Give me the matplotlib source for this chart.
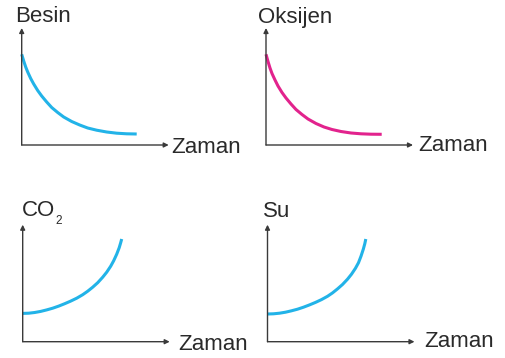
import matplotlib
matplotlib.use("Agg")
import matplotlib.pyplot as plt

plt.rcParams["font.family"] = ["Liberation Sans", "DejaVu Sans"]

# Eğriler (eksen başlangıcına göre okunmuş değerler)
besin_x = [0, 2, 4, 6, 9, 12, 16, 20, 25, 30, 36, 42, 50, 58, 66, 75, 85, 95, 105, 115]
besin_y = [90.7, 84, 78, 73, 66.5, 61, 54.5, 49, 43, 37.5, 32.5, 28, 23.5, 20, 17,
           14.8, 13, 11.8, 11.2, 11]

oksijen_x = [0, 2, 4, 6, 9, 12, 16, 20, 25, 30, 36, 42, 50, 58, 66, 75, 85, 95, 105, 115.7]
oksijen_y = [90.7, 83.5, 77, 71.5, 65, 59, 52.5, 47, 41, 35.5, 30.5, 26, 21.5, 18, 15.5,
             13.5, 12, 11.2, 10.8, 10.7]

co2_x = [0, 6, 12, 18, 24, 30, 36, 42, 48, 54, 60, 65, 70, 75, 80, 84, 88, 91, 94, 96.5,
         98, 99]
co2_y = [28.3, 28.5, 29.2, 30.3, 31.8, 33.5, 35.6, 38, 40.6, 43.5, 47, 50.5, 54.5, 59,
         64.5, 69.5, 75.5, 81, 87.5, 94, 99, 102.7]

su_x = [0, 6, 12, 18, 24, 30, 36, 42, 48, 54, 60, 65, 70, 75, 80, 84, 88, 91, 93.5, 95.8,
        97.3, 98.3]
su_y = [27.7, 27.9, 28.5, 29.5, 30.9, 32.5, 34.5, 36.8, 39.3, 42.1, 45.4, 48.8, 52.8,
        57.2, 62.5, 67.5, 73.5, 79, 85.5, 92.5, 98, 102.7]

X_LABEL = "Zaman"

BLUE = "#22b3e8"
PINK = "#e2238d"
AX_COL = "#3a3a3a"
TXT_COL = "#2a2a2a"

W, H = 506, 358
fig = plt.figure(figsize=(W / 100, H / 100), dpi=100)

# (origin x px, origin y px from top, x data, y data, color, ylabel, ylabel offset, xlabel offset)
panels = [
    (21.7, 145.0, besin_x, besin_y, BLUE, "Besin", (-4.8, 4.5), (1.5, -6.0)),
    (266.0, 145.0, oksijen_x, oksijen_y, PINK, "Oksijen", (-5.8, 3.8), (3.6, -4.3)),
    (22.7, 341.7, co2_x, co2_y, BLUE, "CO", (-0.3, 6.0), (6.1, -6.0)),
    (267.5, 341.7, su_x, su_y, BLUE, "Su", (-3.2, 5.5), (7.2, -4.0)),
]

AW, AH = 147.0, 117.0
for ox, oy, xs, ys, col, ylab, yoff, xoff in panels:
    ax = fig.add_axes([ox / W, (H - oy) / H, AW / W, AH / H])
    ax.set_xlim(0, AW)
    ax.set_ylim(0, AH)
    ax.axis("off")
    ax.plot(xs, ys, color=col, lw=2.2, solid_capstyle="butt",
            solid_joinstyle="round", clip_on=False)
    # eksen okları
    for tip in [(1, 0), (0, 1)]:
        ax.annotate("", xy=tip, xytext=(0, 0), xycoords="axes fraction",
                    arrowprops=dict(arrowstyle="-|>", color=AX_COL, lw=1.0,
                                    mutation_scale=7, shrinkA=0, shrinkB=0))
    ax.annotate(ylab, xy=(0, 1), xycoords="axes fraction", xytext=yoff,
                textcoords="offset points", ha="left", va="baseline",
                fontsize=16, color=TXT_COL)
    if ylab == "CO":
        ax.annotate("2", xy=(0, 1), xycoords="axes fraction",
                    xytext=(yoff[0] + 24.0, 0.2), textcoords="offset points",
                    ha="left", va="baseline", fontsize=8.5, color=TXT_COL)
    ax.annotate(X_LABEL, xy=(1, 0), xycoords="axes fraction", xytext=xoff,
                textcoords="offset points", ha="left", va="baseline",
                fontsize=16, color=TXT_COL)

fig.savefig("out.png", dpi=100, facecolor="white")
